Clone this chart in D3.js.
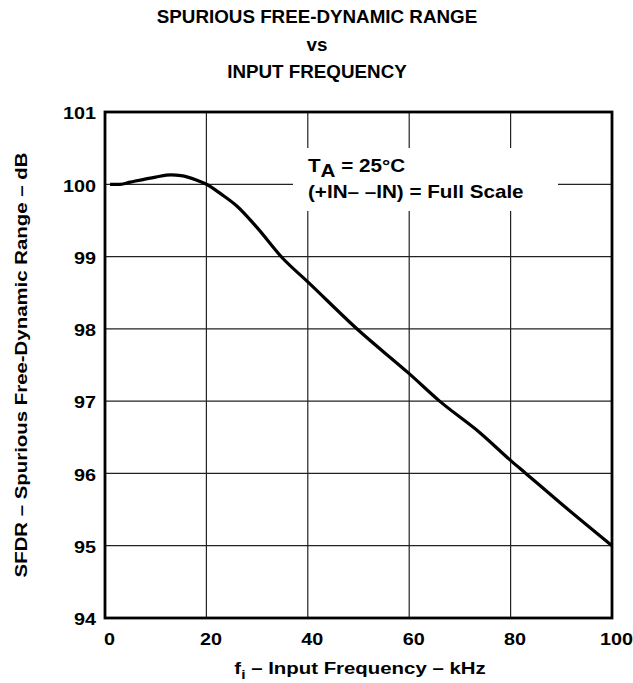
<!DOCTYPE html>
<html>
<head>
<meta charset="utf-8">
<script src="https://cdn.jsdelivr.net/npm/d3@7"></script>
<style>
  body { margin: 0; background: #fff; }
  text { font-family: "Liberation Sans", Arial, sans-serif; font-weight: bold; fill: #000; }
</style>
</head>
<body>
<div id="cont"></div>
<script>
// values
var freqKHz = [1, 3, 5, 10, 13, 15, 18, 20, 23, 26, 30, 35, 40, 50, 60, 66, 74, 80, 83, 90, 100];
var sfdr    = [100.0, 100.0, 100.03, 100.1, 100.13, 100.12, 100.06, 100.0, 99.86, 99.7, 99.4, 98.98, 98.65, 97.98, 97.38, 97.0, 96.56, 96.18, 96.0, 95.58, 95.0];

var xTicks = [0, 20, 40, 60, 80, 100];
var yTicks = [94, 95, 96, 97, 98, 99, 100, 101];
var titleLines = ["SPURIOUS FREE-DYNAMIC RANGE", "vs", "INPUT FREQUENCY"];

var W = 633, H = 683;
var plotL = 105, plotR = 612, plotT = 112, plotB = 618;
var SX = 1.2; // the datasheet type is a bit wide

var svg = d3.select("#cont")
  .append("svg")
  .attr("width", W)
  .attr("height", H);

var x = d3.scaleLinear().domain([0, 100]).range([plotL, plotR]);
var y = d3.scaleLinear().domain([94, 101]).range([plotB, plotT]);

// title
svg.selectAll("text.title")
  .data(titleLines)
  .enter()
  .append("text")
  .attr("class", "title")
  .attr("x", 317)
  .attr("y", function(d, i) { return [23, 51, 78][i]; })
  .attr("text-anchor", "middle")
  .style("font-size", "18.8px")
  .text(function(d) { return d; });

// grid
var grid = svg.append("g");
grid.selectAll("line.v")
  .data(xTicks)
  .enter()
  .append("line")
  .attr("x1", function(d) { return x(d); })
  .attr("x2", function(d) { return x(d); })
  .attr("y1", plotT)
  .attr("y2", plotB)
  .style("stroke", "#222")
  .style("stroke-width", 1.2);

grid.selectAll("line.h")
  .data(yTicks)
  .enter()
  .append("line")
  .attr("x1", plotL)
  .attr("x2", plotR)
  .attr("y1", function(d) { return y(d); })
  .attr("y2", function(d) { return y(d); })
  .style("stroke", "#222")
  .style("stroke-width", 1.2);

// axes (labels only, no tick marks)
var xAxis = d3.axisBottom(x).tickValues(xTicks).tickSize(0).tickPadding(15).tickFormat(d3.format("d"));
var gx = svg.append("g").attr("transform", "translate(4," + plotB + ")").call(xAxis);
gx.select(".domain").remove();
gx.selectAll("text")
  .style("font-size", "16.5px")
  .style("font-family", "Liberation Sans, Arial, sans-serif")
  .style("font-weight", "bold")
  .attr("transform", "scale(" + SX + ",1)");

var yAxis = d3.axisLeft(y).tickValues(yTicks).tickSize(0).tickPadding(7.5).tickFormat(d3.format("d"));
var gy = svg.append("g").attr("transform", "translate(" + plotL + ",1.5)").call(yAxis);
gy.select(".domain").remove();
gy.selectAll("text")
  .style("font-size", "16.5px")
  .style("font-family", "Liberation Sans, Arial, sans-serif")
  .style("font-weight", "bold")
  .attr("transform", "scale(" + SX + ",1)");

// annotation box masks the grid
svg.append("rect")
  .attr("x", 293).attr("y", 148)
  .attr("width", 265).attr("height", 63)
  .style("fill", "#fff");

var note = svg.append("g").attr("transform", "translate(308,0) scale(1.18,1)");
var t1 = note.append("text").attr("x", 0).attr("y", 172).style("font-size", "17.5px");
t1.append("tspan").text("T");
t1.append("tspan").attr("dy", 5).text("A");
t1.append("tspan").attr("dy", -5).text(" = 25\u00B0C");

note.append("text").attr("x", 0).attr("y", 198).style("font-size", "17.5px")
  .text("(+IN\u2013 \u2013IN) = Full Scale");

// curve
var line = d3.line()
  .x(function(d, i) { return x(freqKHz[i]); })
  .y(function(d) { return y(d); })
  .curve(d3.curveMonotoneX);

svg.append("path")
  .datum(sfdr)
  .attr("d", line)
  .style("fill", "none")
  .style("stroke", "#000")
  .style("stroke-width", 3.2)
  .style("stroke-linejoin", "round");

// frame
svg.append("rect")
  .attr("x", plotL).attr("y", plotT)
  .attr("width", plotR - plotL).attr("height", plotB - plotT)
  .style("fill", "none")
  .style("stroke", "#000")
  .style("stroke-width", 2.8);

// axis titles
var xt = svg.append("text")
  .attr("transform", "translate(360,674) scale(" + SX + ",1)")
  .attr("text-anchor", "middle")
  .style("font-size", "17px");
xt.append("tspan").text("f");
xt.append("tspan").attr("dy", 5).style("font-size", "13px").text("i");
xt.append("tspan").attr("dy", -5).text(" \u2013 Input Frequency \u2013 kHz");

svg.append("text")
  .attr("transform", "translate(27,365) rotate(-90) scale(" + SX + ",1)")
  .attr("text-anchor", "middle")
  .style("font-size", "17px")
  .text("SFDR \u2013 Spurious Free-Dynamic Range \u2013 dB");
</script>
</body>
</html>
